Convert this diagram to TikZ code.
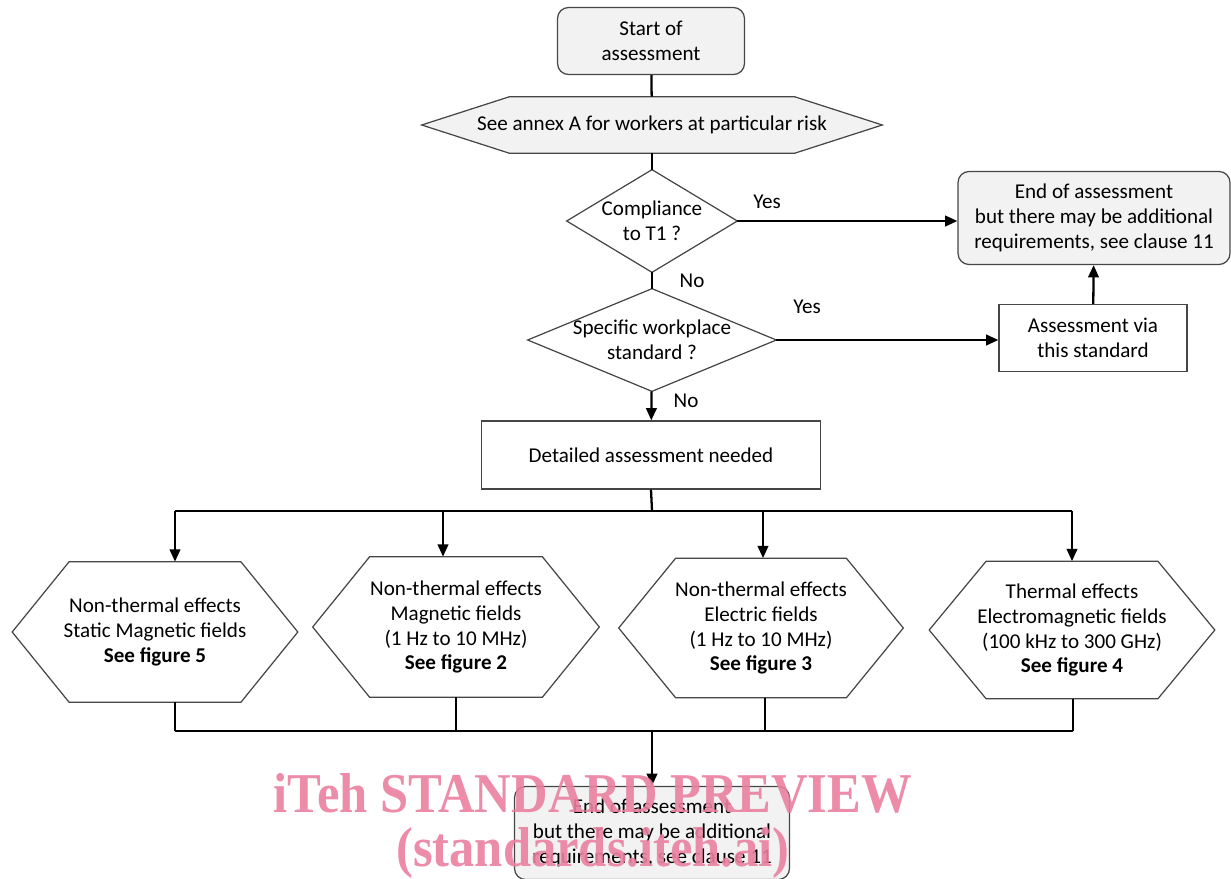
\documentclass[tikz,border=0pt]{standalone}
\usepackage{fontspec}
\setmainfont{Carlito}
\newfontfamily\markfont{Liberation Serif}
\usepackage{tikz}
\usetikzlibrary{arrows.meta,calc,positioning,backgrounds}
\usepackage{xcolor}
\definecolor{boxgray}{RGB}{242,242,242}
\definecolor{edgegray}{RGB}{70,70,70}
\definecolor{markpink}{RGB}{234,128,160}

% hexagon outline round a named node: #1 node, #2 depth of the side points, #3 style
\newcommand\hexframe[3]{%
  \draw[#3] (#1.west) -- ([xshift=#2]#1.north west) -- ([xshift=-#2]#1.north east)
    -- (#1.east) -- ([xshift=-#2]#1.south east) -- ([xshift=#2]#1.south west) -- cycle;}
% diamond outline round a named node
\newcommand\diaframe[1]{%
  \draw[hexline] (#1.west) -- (#1.north) -- (#1.east) -- (#1.south) -- cycle;}

\tikzset{
  txt/.style={font=\fontsize{12}{14.2}\selectfont, align=center, inner sep=1pt},
  roundbox/.style={txt, draw=edgegray, line width=0.7pt, fill=boxgray, rounded corners=0.22cm},
  plainbox/.style={txt, draw=edgegray, line width=0.7pt},
  decision/.style={txt, rectangle, inner sep=0pt},
  hexnode/.style={txt, rectangle},
  hexline/.style={draw=edgegray, line width=0.7pt},
  answer/.style={txt},
  link/.style={line width=1.3pt},
  arr/.style={link, -{Triangle[length=7pt,width=6pt]}},
  stamp/.style={font=\markfont\bfseries\fontsize{32}{34}\selectfont, text=markpink, xscale=0.9, inner sep=0pt, anchor=base}
}

\begin{document}
\begin{tikzpicture}[x=0.02cm,y=-0.02cm]
  \useasboundingbox (0,0) rectangle (1231,879);

  % top of the chart
  \node[roundbox, minimum width=3.74cm, minimum height=1.34cm] (start) at (651,41) {Start of\\assessment};
  \node[hexnode, minimum width=9.2cm, minimum height=1.12cm] (annex) at (652,125) {See annex A for workers at particular risk};
  \begin{scope}[on background layer]
    \hexframe{annex}{1.76cm}{hexline, fill=boxgray}
  \end{scope}

  % decisions
  \node[decision, minimum width=3.4cm, minimum height=2.04cm] (comply) at (652,221) {Compliance\\to T1 ?};
  \node[decision, minimum width=4.96cm, minimum height=2.04cm] (specific) at (652,340) {Specific workplace\\standard ?};
  \diaframe{comply}
  \diaframe{specific}
  \node[roundbox, minimum width=5.44cm, minimum height=1.86cm] (endA) at (1094,218)
    {End of assessment\\but there may be additional\\requirements, see clause 11};
  \node[plainbox, minimum width=3.76cm, minimum height=1.34cm] (via) at (1093,338) {Assessment via\\this standard};
  \node[plainbox, minimum width=6.78cm, minimum height=1.36cm] (detail) at (651,455) {Detailed assessment needed};

  \node[answer] (yesA) at (767,202) {Yes};
  \node[answer] (noA) at (692,281) {No};
  \node[answer] (yesB) at (807,307) {Yes};
  \node[answer] (noB) at (686,401) {No};

  % the four kinds of effect
  \node[hexnode, minimum width=5.7cm, minimum height=2.8cm] (hexA) at (155,632)
    {Non-thermal effects\\Static Magnetic fields\\\textbf{See figure 5}};
  \node[hexnode, minimum width=5.72cm, minimum height=2.8cm] (hexB) at (456,627)
    {Non-thermal effects\\Magnetic fields\\(1 Hz to 10 MHz)\\\textbf{See figure 2}};
  \node[hexnode, minimum width=5.68cm, minimum height=2.78cm] (hexC) at (761,628)
    {Non-thermal effects\\Electric fields\\(1 Hz to 10 MHz)\\\textbf{See figure 3}};
  \node[hexnode, minimum width=5.7cm, minimum height=2.74cm] (hexD) at (1072,630)
    {Thermal effects\\Electromagnetic fields\\(100 kHz to 300 GHz)\\\textbf{See figure 4}};
  \foreach \h in {hexA,hexB,hexC,hexD}
    \hexframe{\h}{1.14cm}{hexline};

  \node[roundbox, minimum width=5.5cm, minimum height=1.86cm] (endB) at (652,833)
    {End of assessment\\but there may be additional\\requirements, see clause 11};

  % bus lines
  \coordinate (split) at (652,511);
  \coordinate (inA) at (175,511);
  \coordinate (inB) at (443,511);
  \coordinate (inC) at (763,511);
  \coordinate (inD) at (1072,511);
  \coordinate (outA) at (175,731);
  \coordinate (outB) at (456,731);
  \coordinate (outC) at (765,731);
  \coordinate (outD) at (1073,731);
  \coordinate (join) at (652,731);

  % connectors
  \draw[link] (start) -- (annex);
  \draw[link] (annex) -- (comply);
  \draw[arr] (comply.east) -- (comply.east -| endA.west);
  \draw[link] (comply) -- (specific);
  \draw[arr] (specific.east) -- (specific.east -| via.west);
  \draw[arr] (via) -- (endA);
  \draw[arr] (specific) -- (detail);
  \draw[link] (detail.south) -- (split);
  \draw[link] (inA) -- (inD);
  \foreach \i/\h in {inA/hexA,inB/hexB,inC/hexC,inD/hexD}
    \draw[arr] (\i) -- (\i |- \h.north);
  \foreach \o/\h in {outA/hexA,outB/hexB,outC/hexC,outD/hexD}
    \draw[link] (\o |- \h.south) -- (\o);
  \draw[link] (outA) -- (outD);
  \draw[arr] (join) -- (endB);

  % preview stamp
  \node[stamp, opacity=0.9] (stampA) at (593,812) {iTeh STANDARD PREVIEW};
  \node[stamp, opacity=0.9] (stampB) at (593,866) {(standards.iteh.ai)};
\end{tikzpicture}
\end{document}
